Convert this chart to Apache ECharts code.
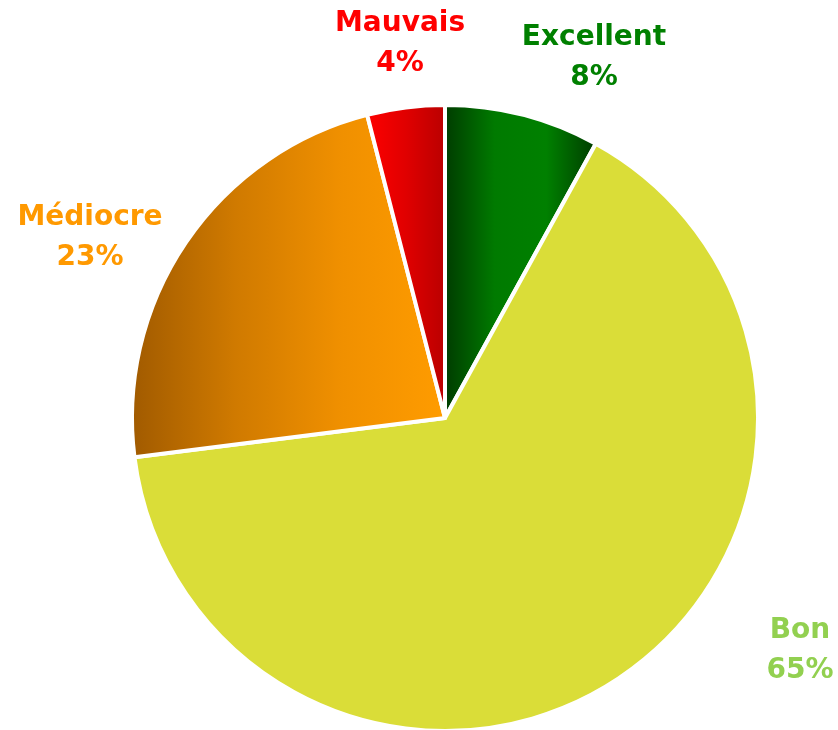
<!DOCTYPE html>
<html lang="fr">
<head>
    <meta charset="UTF-8">
    <title>Répartition</title>
    <script src="https://cdn.jsdelivr.net/npm/echarts@6/dist/echarts.min.js"></script>
    <style>
        html, body { margin: 0; padding: 0; background: #fff; }
        #main { width: 838px; height: 730px; }
    </style>
</head>
<body>
<div id="main"></div>
<script>
    // données
    var categories = ['Excellent', 'Bon', 'Médiocre', 'Mauvais'];
    var values = [8, 65, 23, 4];
    var labelColors = ['#008000', '#92D050', '#FF9900', '#FF0000'];

    // position des étiquettes (centre du bloc de texte)
    var labelPos = [[594, 58], [800, 651], [90, 238], [400, 44]];

    function grad(stops) {
        return new echarts.graphic.LinearGradient(0, 0, 1, 0, stops.map(function (c, i) {
            return { offset: i / (stops.length - 1), color: c };
        }));
    }
    var fills = [
        grad(['#003a00', '#007a00', '#008000', '#003a00']),
        '#DADD38',
        grad(['#a05a00', '#d07a00', '#f09000', '#ff9c00']),
        grad(['#ff0000', '#e00000', '#b80000'])
    ];

    var myChart = echarts.init(document.getElementById('main'));
    myChart.setOption({
        animation: false,
        series: [{
            type: 'pie',
            center: [445, 418],
            radius: [0, 313],
            startAngle: 90,
            clockwise: true,
            avoidLabelOverlap: false,
            itemStyle: { borderColor: '#fff', borderWidth: 4 },
            label: {
                show: true,
                formatter: '{b}\n{d}%',
                fontFamily: 'DejaVu Sans',
                fontWeight: 'bold',
                fontSize: 28,
                lineHeight: 40,
                align: 'center'
            },
            labelLine: { show: false },
            labelLayout: function (params) {
                var p = labelPos[params.dataIndex];
                return { x: p[0], y: p[1], align: 'center', verticalAlign: 'middle' };
            },
            data: categories.map(function (name, i) {
                return {
                    name: name,
                    value: values[i],
                    itemStyle: { color: fills[i] },
                    label: { color: labelColors[i] }
                };
            })
        }]
    });
</script>
</body>
</html>
